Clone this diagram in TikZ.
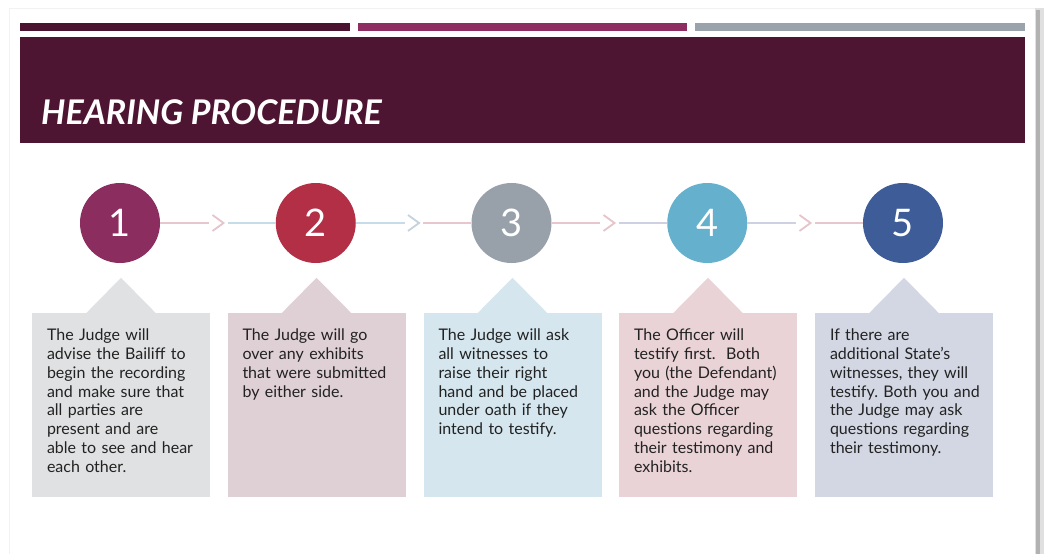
\documentclass[tikz,border=0pt]{standalone}
\usepackage{fontspec}
\setmainfont{Lato}
\usetikzlibrary{calc}
\frenchspacing

% palette
\definecolor{barA}{HTML}{4A1430}
\definecolor{barB}{HTML}{8E2D62}
\definecolor{barC}{HTML}{9AA3AB}
\definecolor{band}{HTML}{4D1532}
\definecolor{stepA}{HTML}{8B2D5F}
\definecolor{stepB}{HTML}{B22F46}
\definecolor{stepC}{HTML}{98A1AA}
\definecolor{stepD}{HTML}{64B0CD}
\definecolor{stepE}{HTML}{3D5C98}
\definecolor{boxA}{HTML}{E0E1E3}
\definecolor{boxB}{HTML}{DFD0D6}
\definecolor{boxC}{HTML}{D5E6EE}
\definecolor{boxD}{HTML}{EAD3D7}
\definecolor{boxE}{HTML}{D3D7E3}
\definecolor{lnPink}{HTML}{E8C6CD}
\definecolor{lnBlue}{HTML}{C6DCE9}
\definecolor{lnLav}{HTML}{CDD1E3}
\definecolor{chPink}{HTML}{E6C4CB}
\definecolor{chBlue}{HTML}{C4D2E0}
\definecolor{bodytext}{HTML}{222222}

\tikzset{
  stepcircle/.style={circle, inner sep=0pt, minimum size=80pt, text=white,
    font=\fontsize{38}{38}\selectfont},
  infobox/.style={rectangle, inner sep=0pt, minimum width=178pt, minimum height=184pt},
  infotext/.style={anchor=north west, inner sep=0pt, text width=170pt, align=left,
    text=bodytext, font=\fontsize{16}{18.8}\selectfont},
  chevnode/.style={inner sep=0pt, minimum width=18pt, minimum height=16pt},
  link/.style={line width=1.8pt},
  chevron/.style={line width=1.8pt},
}

\begin{document}
\begin{tikzpicture}[x=1pt, y=-1pt]
\useasboundingbox (0,0) rectangle (1044,554);
\fill[white] (0,0) rectangle (1044,554);

% slide edge and its shadow
\draw[black!5, line width=1pt] (9,554) -- (9,8) -- (1035,8);
\fill[black!12] (1035,8) rectangle (1044,554);
\fill[black!30] (1036,10) rectangle (1040,554);

% top bars and title band
\fill[barA] (20,23) rectangle (350,31);
\fill[barB] (358,23) rectangle (687,31);
\fill[barC] (695,23) rectangle (1025,31);
\fill[band] (20,37) rectangle (1025,143);
\node[anchor=base west, inner sep=0pt, text=white,
      font=\fontsize{34}{34}\selectfont\bfseries\itshape] (title) at (41,124) {HEARING PROCEDURE};

% step circles
\node[stepcircle, fill=stepA] (c1) at (120,223) {1};
\node[stepcircle, fill=stepB] (c2) at (315.75,223) {2};
\node[stepcircle, fill=stepC] (c3) at (511.5,223) {3};
\node[stepcircle, fill=stepD] (c4) at (707.25,223) {4};
\node[stepcircle, fill=stepE] (c5) at (903,223) {5};

% chevron holders between the circles
\node[chevnode] (k1) at (218.5,223) {};
\node[chevnode] (k2) at (414,223) {};
\node[chevnode] (k3) at (609.5,223) {};
\node[chevnode] (k4) at (805.5,223) {};

% connecting lines
\draw[link, lnPink] (c1.east) -- (k1.west);
\draw[link, lnBlue] (k1.east) -- (c2.west);
\draw[link, lnBlue] (c2.east) -- (k2.west);
\draw[link, lnPink] (k2.east) -- (c3.west);
\draw[link, lnPink] (c3.east) -- (k3.west);
\draw[link, lnLav] (k3.east) -- (c4.west);
\draw[link, lnLav] (c4.east) -- (k4.west);
\draw[link, lnPink] (k4.east) -- (c5.west);

% chevrons
\draw[chevron, chPink] ($(k1.center)+(-6,-8)$) -- ++(11,8) -- ++(-11,8);
\draw[chevron, chBlue] ($(k2.center)+(-6,-8)$) -- ++(11,8) -- ++(-11,8);
\draw[chevron, chPink] ($(k3.center)+(-6,-8)$) -- ++(11,8) -- ++(-11,8);
\draw[chevron, chPink] ($(k4.center)+(-6,-8)$) -- ++(11,8) -- ++(-11,8);

% description boxes with their pointer
\foreach \i/\cx/\col in {1/121/boxA, 2/316.5/boxB, 3/512.5/boxC, 4/708/boxD, 5/904/boxE}{
  \node[infobox, fill=\col] (b\i) at (\cx,405) {};
  \fill[\col] ($(b\i.north)+(-35,0.5)$) -- ++(35,-35.5) -- ++(35,35.5) -- cycle;
}

% box texts
\node[infotext] (t1) at ($(b1.north west)+(15,16)$) {The Judge will\\advise the Bailiff to\\begin the recording\\and make sure that\\all parties are\\present and are\\able to see and hear\\each other.};
\node[infotext] (t2) at ($(b2.north west)+(15,16)$) {The Judge will go\\over any exhibits\\that were submitted\\by either side.};
\node[infotext] (t3) at ($(b3.north west)+(15,16)$) {The Judge will ask\\all witnesses to\\raise their right\\hand and be placed\\under oath if they\\intend to testify.};
\node[infotext] (t4) at ($(b4.north west)+(15,16)$) {The Officer will\\testify first.\ \ Both\\you (the Defendant)\\and the Judge may\\ask the Officer\\questions regarding\\their testimony and\\exhibits.};
\node[infotext] (t5) at ($(b5.north west)+(15,16)$) {If there are\\additional State’s\\witnesses, they will\\testify. Both you and\\the Judge may ask\\questions regarding\\their testimony.};
\end{tikzpicture}
\end{document}
